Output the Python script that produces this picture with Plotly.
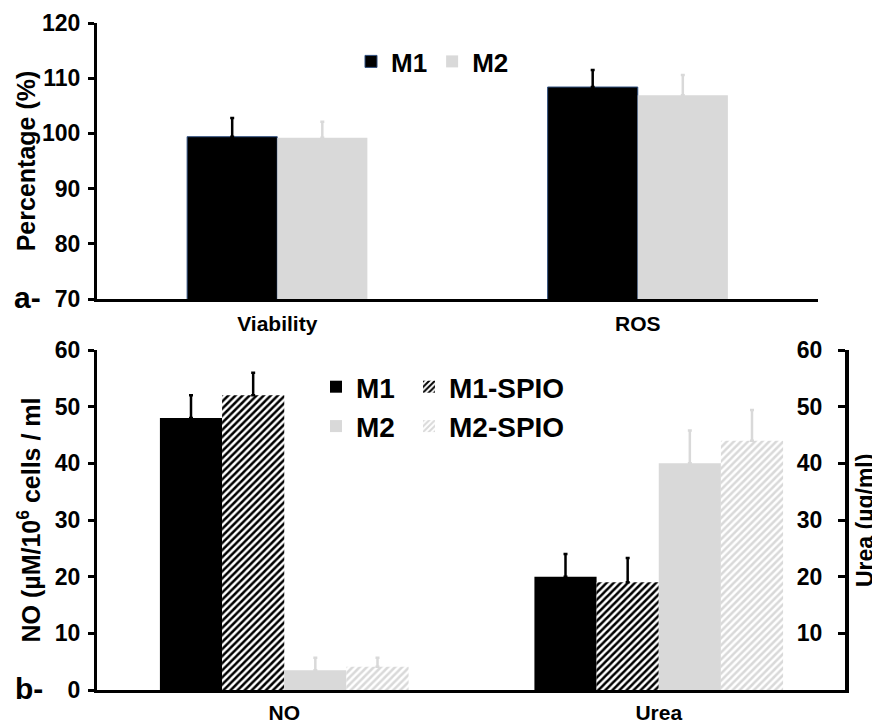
import plotly.graph_objects as go

# ---- data ----
top_categories = ["Viability", "ROS"]
top_m1 = [99.4, 108.4]
top_m1_err = [3.4, 3.1]
top_m2 = [99.2, 106.9]
top_m2_err = [2.9, 3.7]

bottom_categories = ["NO", "Urea"]
series_names = ["M1", "M1-SPIO", "M2", "M2-SPIO"]
no_values = [48, 52, 3.5, 4.1]
no_errors = [4.0, 4.0, 2.2, 1.6]
urea_values = [20, 19, 40, 44]
urea_errors = [4.0, 4.3, 5.8, 5.4]

top_ticks = [70, 80, 90, 100, 110, 120]
left_ticks = [0, 10, 20, 30, 40, 50, 60]
right_ticks = [10, 20, 30, 40, 50, 60]

FONT = "Arial, Liberation Sans, sans-serif"
BLACK = "#000000"
GREY = "#d9d9d9"

styles = {
    "M1": dict(color=BLACK, pattern=None, err=BLACK),
    "M1-SPIO": dict(color="white", pattern=dict(shape="/", fgcolor=BLACK, bgcolor="white", size=5, solidity=0.5, fillmode="replace"), err=BLACK),
    "M2": dict(color=GREY, pattern=None, err=GREY),
    "M2-SPIO": dict(color="white", pattern=dict(shape="/", fgcolor=GREY, bgcolor="white", size=5, solidity=0.5, fillmode="replace"), err=GREY),
}

fig = go.Figure()

# ---- top panel ----
tw = 0.25
fig.add_trace(go.Bar(
    x=top_categories, y=top_m1, name="M1", width=tw, offset=-tw,
    marker=dict(color=BLACK, line=dict(color="#2f4f7f", width=1)),
    error_y=dict(type="data", array=top_m1_err, arrayminus=[0, 0], color=BLACK, thickness=2.5, width=2),
    xaxis="x", yaxis="y", legend="legend",
))
fig.add_trace(go.Bar(
    x=top_categories, y=top_m2, name="M2", width=tw, offset=0,
    marker=dict(color=GREY, line=dict(width=0)),
    error_y=dict(type="data", array=top_m2_err, arrayminus=[0, 0], color=GREY, thickness=2.5, width=2),
    xaxis="x", yaxis="y", legend="legend",
))

# ---- bottom panel ----
bw = 0.166
for i, name in enumerate(series_names):
    st = styles[name]
    marker = dict(color=st["color"], line=dict(width=0))
    if st["pattern"]:
        marker["pattern"] = st["pattern"]
    leg = "legend2" if name in ("M1", "M2") else "legend3"
    fig.add_trace(go.Bar(
        x=[bottom_categories[0]], y=[no_values[i]], name=name, width=bw, offset=(i - 2) * bw,
        marker=marker, legendgroup=name, legend=leg,
        error_y=dict(type="data", array=[no_errors[i]], arrayminus=[0], color=st["err"], thickness=2.5, width=2),
        xaxis="x2", yaxis="y2",
    ))
    fig.add_trace(go.Bar(
        x=[bottom_categories[1]], y=[urea_values[i]], name=name, width=bw, offset=(i - 2) * bw,
        marker=marker, legendgroup=name, showlegend=False,
        error_y=dict(type="data", array=[urea_errors[i]], arrayminus=[0], color=st["err"], thickness=2.5, width=2),
        xaxis="x2", yaxis="y3",
    ))

axis_common = dict(showgrid=False, zeroline=False, showline=True, linecolor=BLACK, linewidth=3,
                   automargin=False)
tickfont = dict(family=FONT, size=23, color=BLACK, weight="bold")
catfont = dict(family=FONT, size=21, color=BLACK, weight="bold")
titlefont = dict(family=FONT, size=25, color=BLACK, weight="bold")

# the page body adds an 8px offset; positions below are given in screen pixels
OFF = 8
SCR_LEFT, SCR_RIGHT, SCR_TOP, SCR_BOTTOM = 97, 846, 23, 690
L = SCR_LEFT - OFF
T = SCR_TOP - OFF
R = 880 - (SCR_RIGHT - OFF)
B = 724 - (SCR_BOTTOM - OFF)
PW, PH = 880 - L - R, 724 - T - B


def px_x(px):
    return (px - OFF - L) / PW


def px_y(py):
    return 1 - (py - OFF - T) / PH


fig.update_layout(
    width=880, height=724,
    margin=dict(l=L, r=R, t=T, b=B, autoexpand=False),
    paper_bgcolor="white", plot_bgcolor="white",
    barmode="overlay",
    font=dict(family=FONT, color=BLACK),
    xaxis=dict(**axis_common, domain=[0, px_x(818)], anchor="y", type="category",
               range=[-0.5, 1.5], ticks="", tickfont=catfont, ticklabelstandoff=4),
    yaxis=dict(**axis_common, domain=[px_y(299), 1], anchor="x", range=[70, 120],
               tickvals=top_ticks, ticks="outside", ticklen=6, tickwidth=3, tickcolor=BLACK,
               tickfont=tickfont, ticklabelstandoff=3,
               title=dict(text="Percentage (%)", font=titlefont, standoff=0)),
    xaxis2=dict(**axis_common, domain=[0, 1], anchor="y2", type="category",
                range=[-0.5, 1.5], ticks="", tickfont=catfont, ticklabelstandoff=2),
    yaxis2=dict(**axis_common, mirror=True, domain=[0, px_y(350)], anchor="x2", range=[0, 60],
                tickvals=left_ticks, ticks="outside", ticklen=6, tickwidth=3, tickcolor=BLACK,
                tickfont=tickfont, ticklabelstandoff=3,
                title=dict(text="NO (µM/10<sup>6</sup> cells / ml", font=titlefont, standoff=8)),
    yaxis3=dict(**axis_common, overlaying="y2", side="left", anchor="free", position=1.0,
                range=[0, 60], tickvals=right_ticks, ticks="outside", ticklen=7, tickwidth=3,
                tickcolor=BLACK, tickfont=tickfont, ticklabelstandoff=11),
    legend=dict(orientation="h", x=px_x(351), y=px_y(38), xanchor="left", yanchor="top",
                font=dict(family=FONT, size=26, color=BLACK, weight="bold"),
                bgcolor="rgba(0,0,0,0)", itemwidth=30, traceorder="normal"),
    legend2=dict(orientation="v", x=px_x(316), y=px_y(362), xanchor="left", yanchor="top",
                 font=dict(family=FONT, size=28, color=BLACK, weight="bold"),
                 bgcolor="rgba(0,0,0,0)", itemwidth=30, tracegroupgap=0),
    legend3=dict(orientation="v", x=px_x(409), y=px_y(362), xanchor="left", yanchor="top",
                 font=dict(family=FONT, size=28, color=BLACK, weight="bold"),
                 bgcolor="rgba(0,0,0,0)", itemwidth=30, tracegroupgap=0),
    annotations=[
        dict(text="a-", x=px_x(27), y=px_y(298), xref="paper", yref="paper", showarrow=False,
             xanchor="center", yanchor="middle",
             font=dict(family=FONT, size=30, color=BLACK, weight="bold")),
        dict(text="b-", x=px_x(29), y=px_y(688), xref="paper", yref="paper", showarrow=False,
             xanchor="center", yanchor="middle",
             font=dict(family=FONT, size=30, color=BLACK, weight="bold")),
        dict(text="Urea (µg/ml)", x=px_x(865), y=px_y(521), xref="paper", yref="paper",
             showarrow=False, textangle=-90, xanchor="center", yanchor="middle",
             font=dict(family=FONT, size=23, color=BLACK, weight="bold")),
    ],
)

fig.write_html("out.html")
